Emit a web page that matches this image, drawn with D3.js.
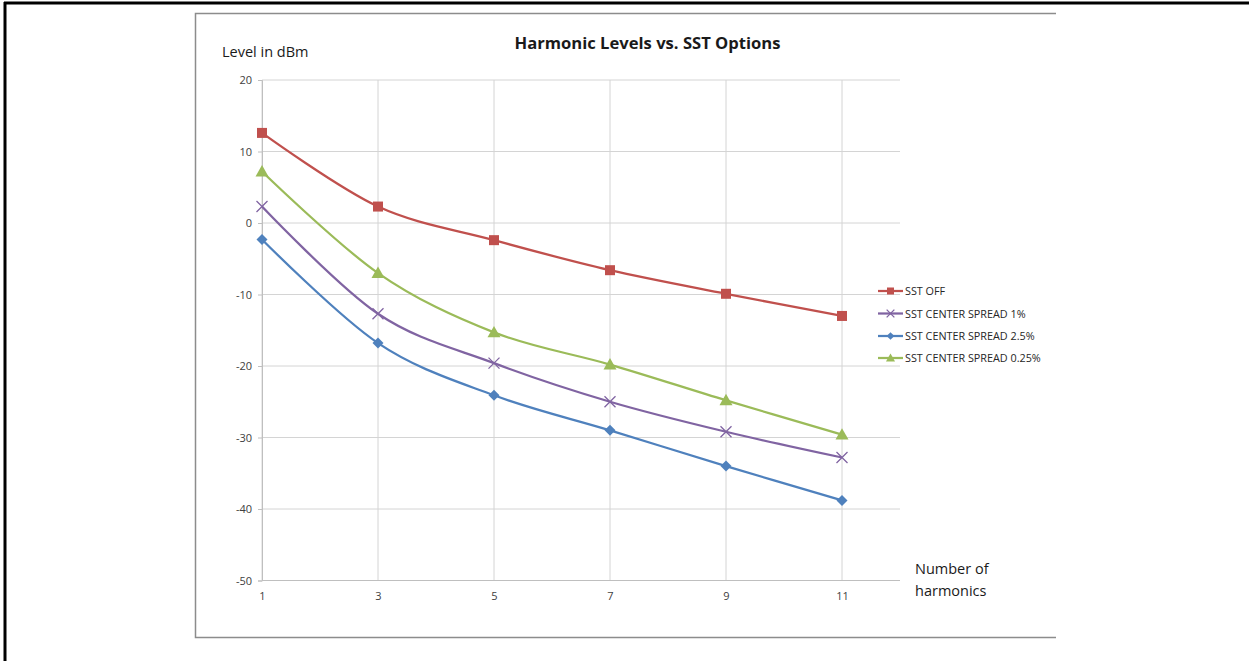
<!DOCTYPE html>
<html><head><meta charset="utf-8">
<script src="https://cdn.jsdelivr.net/npm/d3@7"></script>
<style>body{margin:0;background:#fff;} svg{display:block;}</style>
</head><body>
<svg id="c" width="1249" height="661"></svg>
<script>
const harmonics = [1, 3, 5, 7, 9, 11];
const seriesNames = ["SST OFF", "SST CENTER SPREAD 1%", "SST CENTER SPREAD 2.5%", "SST CENTER SPREAD 0.25%"];
const sstOff = [12.6, 2.3, -2.4, -6.6, -9.9, -13.0];
const spread1 = [2.3, -12.7, -19.6, -25.0, -29.2, -32.8];
const spread25 = [-2.3, -16.8, -24.1, -29.0, -34.0, -38.8];
const spread025 = [7.2, -7.0, -15.3, -19.8, -24.8, -29.6];
const yTicks = [20, 10, 0, -10, -20, -30, -40, -50];
const xTicks = [1, 3, 5, 7, 9, 11];

const colors = ["#C0504D", "#8064A2", "#4F81BD", "#9BBB59"];
const markers = ["square", "cross", "diamond", "triangle"];
const allSeries = [sstOff, spread1, spread25, spread025];

const svg = d3.select("#c");
const font = "Open Sans, sans-serif";

// outer page borders
svg.append("line").attr("x1", 4).attr("x2", 1249).attr("y1", 3).attr("y2", 3).attr("stroke", "#000").attr("stroke-width", 3);
svg.append("line").attr("x1", 5).attr("x2", 5).attr("y1", 2).attr("y2", 661).attr("stroke", "#000").attr("stroke-width", 3);

// chart frame
svg.append("path").attr("d", "M1056,13.5 H195.5 V637.5 H1056").attr("fill", "none").attr("stroke", "#8c8c8c").attr("stroke-width", 1.5);

const x = d3.scaleLinear().domain([1, 12]).range([262, 900]);
const y = d3.scaleLinear().domain([-50, 20]).range([580.5, 80]);

const g = svg.append("g");
// gridlines
g.selectAll(".hg").data(yTicks).join("line")
  .attr("x1", x(1)).attr("x2", x(12)).attr("y1", d => y(d)).attr("y2", d => y(d))
  .attr("stroke", "#d4d4d4").attr("stroke-width", 1);
g.selectAll(".vg").data(xTicks).join("line")
  .attr("x1", d => x(d)).attr("x2", d => x(d)).attr("y1", y(20)).attr("y2", y(-50))
  .attr("stroke", "#d4d4d4").attr("stroke-width", 1);

// axes
const yAxis = d3.axisLeft(y).tickValues(yTicks).tickSize(4).tickPadding(6).tickFormat(d => String(d));
const ya = svg.append("g").attr("transform", `translate(${x(1)},0)`).call(yAxis);
ya.select(".domain").attr("stroke", "#bfbfbf");
ya.selectAll(".tick line").attr("stroke", "#bfbfbf");
ya.selectAll("text").attr("font-family", font).attr("font-size", 11).attr("fill", "#404040");

const xAxis = d3.axisBottom(x).tickValues(xTicks).tickSize(0).tickPadding(12).tickFormat(d => String(d));
const xa = svg.append("g").attr("transform", `translate(0,${y(-50)})`).call(xAxis);
xa.select(".domain").attr("stroke", "#bfbfbf").attr("d", `M${x(1)},0H${x(12)}`);
xa.selectAll("text").attr("font-family", font).attr("font-size", 11).attr("fill", "#404040");

// lines
const line = d3.line().x((d, i) => x(harmonics[i])).y(d => y(d)).curve(d3.curveCardinal.tension(0));
allSeries.forEach((s, k) => {
  svg.append("path").attr("d", line(s)).attr("fill", "none").attr("stroke", colors[k]).attr("stroke-width", 2.25);
});

function drawMarker(sel, type, cx, cy, color, scale) {
  const s = scale || 1;
  if (type === "square") {
    sel.append("rect").attr("x", cx - 5 * s).attr("y", cy - 5 * s).attr("width", 10 * s).attr("height", 10 * s).attr("fill", color);
  } else if (type === "cross") {
    const r = 5.5 * s;
    sel.append("path").attr("d", `M${cx - r},${cy - r}L${cx + r},${cy + r}M${cx - r},${cy + r}L${cx + r},${cy - r}`)
      .attr("stroke", color).attr("stroke-width", 1.3).attr("fill", "none");
  } else if (type === "diamond") {
    const r = 5.5 * s;
    sel.append("path").attr("d", `M${cx},${cy - r}L${cx + r},${cy}L${cx},${cy + r}L${cx - r},${cy}Z`).attr("fill", color);
  } else if (type === "triangle") {
    const r = 6.5 * s;
    sel.append("path").attr("d", `M${cx},${cy - r}L${cx + r},${cy + r * 0.75}L${cx - r},${cy + r * 0.75}Z`).attr("fill", color);
  }
}

allSeries.forEach((s, k) => {
  const mg = svg.append("g");
  s.forEach((v, i) => drawMarker(mg, markers[k], x(harmonics[i]), y(v), colors[k], 1));
});

// title and axis titles
svg.append("text").attr("x", 647.5).attr("y", 49).attr("text-anchor", "middle")
  .attr("font-family", font).attr("font-weight", "bold").attr("font-size", 16.6).attr("fill", "#1a1a1a")
  .text("Harmonic Levels vs. SST Options");
svg.append("text").attr("x", 222).attr("y", 57).attr("font-family", font).attr("font-size", 14.5).attr("fill", "#1a1a1a").text("Level in dBm");
svg.append("text").attr("x", 915).attr("y", 574).attr("font-family", font).attr("font-size", 14.5).attr("fill", "#1a1a1a").text("Number of");
svg.append("text").attr("x", 915).attr("y", 596).attr("font-family", font).attr("font-size", 14.5).attr("fill", "#1a1a1a").text("harmonics");

// legend
const legY = [291, 313.5, 336, 358];
seriesNames.forEach((name, k) => {
  const lg = svg.append("g");
  lg.append("line").attr("x1", 878).attr("x2", 903).attr("y1", legY[k]).attr("y2", legY[k]).attr("stroke", colors[k]).attr("stroke-width", 2.25);
  drawMarker(lg, markers[k], 890.5, legY[k], colors[k], 0.7);
  lg.append("text").attr("x", 905).attr("y", legY[k] + 4).attr("font-family", font).attr("font-size", 10.8).attr("fill", "#262626").text(name);
});
</script>
</body></html>
